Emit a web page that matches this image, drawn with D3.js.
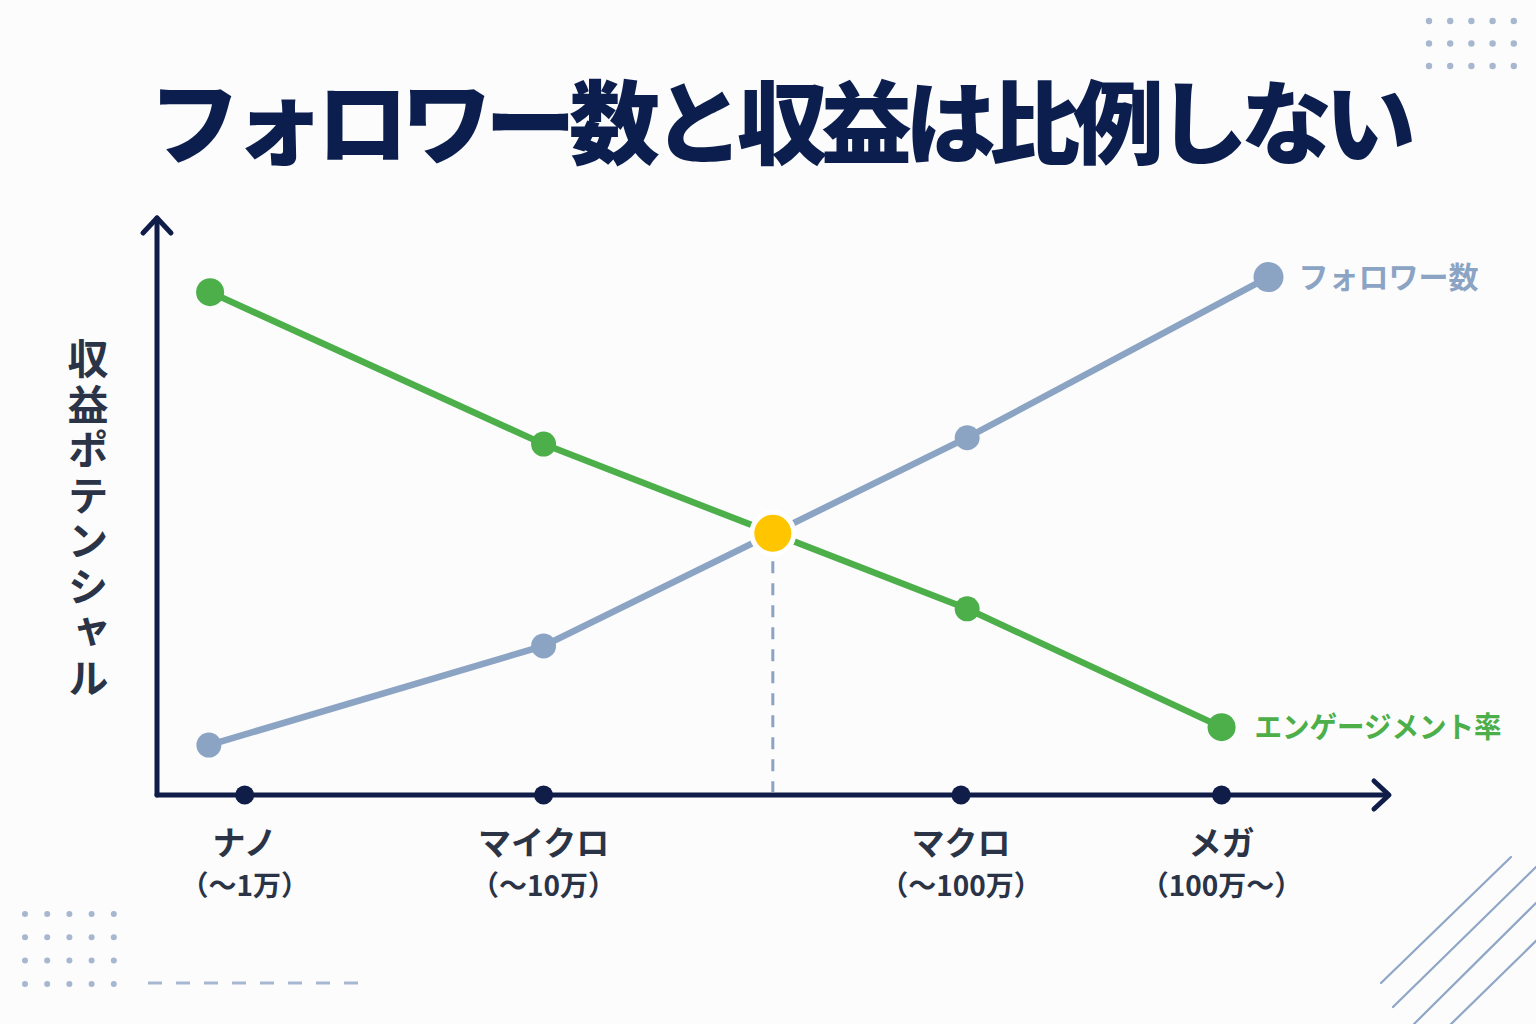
<!DOCTYPE html>
<html><head><meta charset="utf-8">
<script src="https://cdn.jsdelivr.net/npm/d3@7"></script>
<style>
html,body{margin:0;padding:0;background:#fcfcfd;}
svg{display:block;font-family:"Noto Sans CJK JP","Noto Sans",sans-serif;}
</style></head>
<body><svg id="c" width="1536" height="1024"></svg>
<script>
// ---- data ----
const title = "フォロワー数と収益は比例しない";
const yAxisLabel = "収益ポテンシャル";
const categories = ["ナノ", "マイクロ", "マクロ", "メガ"];
const categoryRanges = ["（～1万）", "（～10万）", "（～100万）", "（100万～）"];
const categoryStage = [0.71, 3.13, 6.51, 8.62];
const seriesNames = ["フォロワー数", "エンゲージメント率"];
const followerStage = [0.42, 3.13, 6.56, 9.0];
const followerValues = [8.6, 25.7, 61.6, 89.3];
const engagementStage = [0.43, 3.13, 6.56, 8.62];
const engagementValues = [86.7, 60.5, 32.1, 11.7];

// ---- layout ----
const svg = d3.select("#c");
const navy = "#0f1d48", textDark = "#2b3446", green = "#4caf4a", blue = "#8ca4c3", yellow = "#ffc600", deco = "#8fa6c6";
const x = d3.scaleLinear().domain([0, 10]).range([157, 1392]);
const y = d3.scaleLinear().domain([0, 100]).range([795, 215]);

svg.append("rect").attr("width", 1536).attr("height", 1024).attr("fill", "#fcfcfd");

// decorations
const dotsTR = d3.cross(d3.range(5), d3.range(3));
svg.append("g").selectAll("circle").data(dotsTR).join("circle")
  .attr("cx", d => 1429 + d[0] * 21.2).attr("cy", d => 21 + d[1] * 22.5).attr("r", 3.2).attr("fill", "#a6b7cf");
const dotsBL = d3.cross(d3.range(5), d3.range(4));
svg.append("g").selectAll("circle").data(dotsBL).join("circle")
  .attr("cx", d => 25 + d[0] * 22.2).attr("cy", d => 914 + d[1] * 23.3).attr("r", 3).attr("fill", "#a6b7cf");
svg.append("line").attr("x1", 148).attr("x2", 370).attr("y1", 983).attr("y2", 983)
  .attr("stroke", "#a6b7cf").attr("stroke-width", 3).attr("stroke-dasharray", "14 14");
const diag = [[1381, 983, 1511, 857], [1393, 1007, 1540, 863], [1414, 1024, 1540, 899], [1449, 1026, 1540, 937]];
svg.append("g").selectAll("line").data(diag).join("line")
  .attr("x1", d => d[0]).attr("y1", d => d[1]).attr("x2", d => d[2]).attr("y2", d => d[3])
  .attr("stroke", deco).attr("stroke-width", 2.2).attr("stroke-linecap", "round");

// title
svg.append("text").attr("x", 779).attr("y", 157).attr("text-anchor", "middle")
  .attr("font-size", 91).attr("font-weight", 900).attr("fill", "#0b1e4d")
  .attr("letter-spacing", -7)
  .text(title);

// axes
const ax = svg.append("g").attr("stroke", navy).attr("stroke-width", 5).attr("fill", "none")
  .attr("stroke-linecap", "round").attr("stroke-linejoin", "round");
ax.append("line").attr("x1", x(0)).attr("y1", y(0)).attr("x2", x(0)).attr("y2", 218);
ax.append("line").attr("x1", x(0)).attr("y1", y(0)).attr("x2", 1388).attr("y2", y(0));
ax.append("path").attr("d", `M${x(0) - 14},${233} L${x(0)},${218} L${x(0) + 14},${233}`);
ax.append("path").attr("d", `M${1374},${y(0) - 14} L${1389},${y(0)} L${1374},${y(0) + 14}`);

// y label (vertical)
svg.append("text").attr("x", 88).attr("y", 338)
  .style("writing-mode", "vertical-rl").style("text-orientation", "upright")
  .attr("font-size", 41).attr("font-weight", 700).attr("fill", textDark)
  .attr("letter-spacing", 4.5).text(yAxisLabel);

// category ticks and labels
const cat = svg.append("g").selectAll("g").data(categories).join("g")
  .attr("transform", (d, i) => `translate(${x(categoryStage[i])},0)`);
cat.append("circle").attr("cy", y(0)).attr("r", 9.5).attr("fill", navy);
cat.append("text").attr("y", 855).attr("text-anchor", "middle")
  .attr("font-size", 33).attr("font-weight", 700).attr("fill", textDark).text(d => d);
cat.append("text").attr("y", 896).attr("text-anchor", "middle")
  .attr("font-size", 28).attr("font-weight", 600).attr("fill", textDark)
  .text((d, i) => categoryRanges[i]);

// intersection of middle segments
const fPts = followerStage.map((s, i) => [s, followerValues[i]]);
const ePts = engagementStage.map((s, i) => [s, engagementValues[i]]);
function intersect(a1, a2, b1, b2) {
  const dax = a2[0] - a1[0], day = a2[1] - a1[1], dbx = b2[0] - b1[0], dby = b2[1] - b1[1];
  const den = dax * dby - day * dbx;
  const t = ((b1[0] - a1[0]) * dby - (b1[1] - a1[1]) * dbx) / den;
  return [a1[0] + t * dax, a1[1] + t * day];
}
const cross = intersect(fPts[1], fPts[2], ePts[1], ePts[2]);

// dashed guide
svg.append("line").attr("x1", x(cross[0])).attr("x2", x(cross[0]))
  .attr("y1", y(cross[1]) + 28).attr("y2", y(0) - 3)
  .attr("stroke", blue).attr("stroke-width", 3).attr("stroke-dasharray", "12 10");

// lines
const line = d3.line().x(d => x(d[0])).y(d => y(d[1]));
svg.append("path").datum(fPts).attr("d", line).attr("fill", "none")
  .attr("stroke", blue).attr("stroke-width", 6.5).attr("stroke-linecap", "round");
svg.append("path").datum(ePts).attr("d", line).attr("fill", "none")
  .attr("stroke", green).attr("stroke-width", 6.5).attr("stroke-linecap", "round");

svg.append("g").selectAll("circle").data(fPts).join("circle")
  .attr("cx", d => x(d[0])).attr("cy", d => y(d[1]))
  .attr("r", (d, i) => i === fPts.length - 1 ? 15 : 12.5).attr("fill", blue);
svg.append("g").selectAll("circle").data(ePts).join("circle")
  .attr("cx", d => x(d[0])).attr("cy", d => y(d[1]))
  .attr("r", (d, i) => (i === 0 || i === ePts.length - 1) ? 14 : 12.5).attr("fill", green);

// crossing marker
svg.append("circle").attr("cx", x(cross[0])).attr("cy", y(cross[1])).attr("r", 21)
  .attr("fill", yellow).attr("stroke", "#ffffff").attr("stroke-width", 5);

// series labels
const fl = fPts[fPts.length - 1], el = ePts[ePts.length - 1];
svg.append("text").attr("x", x(fl[0]) + 30).attr("y", y(fl[1]) + 11)
  .attr("font-size", 30).attr("font-weight", 700).attr("fill", blue).text(seriesNames[0]);
svg.append("text").attr("x", x(el[0]) + 33).attr("y", y(el[1]) + 11)
  .attr("font-size", 29).attr("font-weight", 700).attr("fill", green)
  .attr("textLength", 247).attr("lengthAdjust", "spacingAndGlyphs").text(seriesNames[1]);
</script></body></html>
